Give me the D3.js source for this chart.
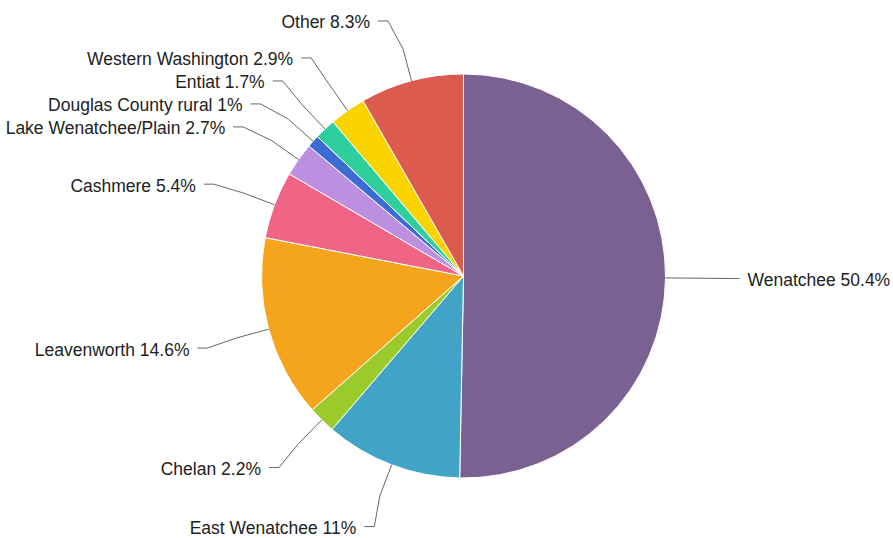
<!DOCTYPE html>
<html>
<head>
<meta charset="utf-8">
<script src="https://cdn.jsdelivr.net/npm/d3@7"></script>
<style>
  html, body { margin: 0; padding: 0; background: #fff; }
  svg { display: block; font-family: "Liberation Sans", Arial, Helvetica, sans-serif; }
</style>
</head>
<body>
<svg id="chart" width="893" height="538"></svg>
<script>
// data
const categories = ["Wenatchee", "East Wenatchee", "Chelan", "Leavenworth", "Cashmere",
	"Lake Wenatchee/Plain", "Douglas County rural", "Entiat", "Western Washington", "Other"];
const shares = [50.4, 11, 2.2, 14.6, 5.4, 2.7, 1, 1.7, 2.9, 8.3];
const sliceColors = ["#7b6192", "#41a3c5", "#9acb2b", "#f5a51b", "#f06586",
	"#bd8fe0", "#3a6cd3", "#2ecf9c", "#fbd300", "#dc5b4f"];

const width = 893, height = 538;
const cx = 463.5, cy = 276, radius = 202;
const labelRadius = 266;   // where labels sit
const breakRadius = 235;   // where connector bends near the slice
const minGap = 23;         // min vertical spacing between labels

const svg = d3.select("#chart");

const pie = d3.pie().sort(null).value(d => d.value);
const arc = d3.arc().innerRadius(0).outerRadius(radius);

const rows = categories.map((c, i) => ({ name: c, value: shares[i], color: sliceColors[i] }));
const arcs = pie(rows);

const g = svg.append("g").attr("transform", `translate(${cx},${cy})`);

g.selectAll("path.slice")
	.data(arcs)
	.enter().append("path")
	.attr("class", "slice")
	.attr("d", arc)
	.attr("fill", d => d.data.color)
	.attr("stroke", "#fff")
	.attr("stroke-width", 1);

// label layout: natural position on the label circle, then spread each side apart
const labels = arcs.map(d => {
	const a = (d.startAngle + d.endAngle) / 2;
	const right = Math.sin(a) >= 0;
	return {
		arc: d,
		angle: a,
		right: right,
		y: -labelRadius * Math.cos(a) + (right ? 0 : 2)
	};
});

function spread(list) {
	list.sort((a, b) => a.y - b.y);
	for (let iter = 0; iter < 200; iter++) {
		let moved = false;
		for (let i = 1; i < list.length; i++) {
			const overlap = minGap - (list[i].y - list[i - 1].y);
			if (overlap > 0.01) {
				list[i - 1].y -= overlap / 2;
				list[i].y += overlap / 2;
				moved = true;
			}
		}
		if (!moved) break;
	}
}
spread(labels.filter(l => l.right));
spread(labels.filter(l => !l.right));

labels.forEach(l => {
	const dy = Math.max(-labelRadius, Math.min(labelRadius, l.y));
	const dx = Math.sqrt(labelRadius * labelRadius - dy * dy);
	l.x = l.right ? dx : -dx;
	l.side = l.right ? 1 : -1;
});

const line = d3.line();

g.selectAll("path.connector")
	.data(labels)
	.enter().append("path")
	.attr("class", "connector")
	.attr("fill", "none")
	.attr("stroke", "#666")
	.attr("stroke-width", 1)
	.attr("d", l => {
		const touch = [radius * Math.sin(l.angle), -radius * Math.cos(l.angle)];
		const brk = [breakRadius * Math.sin(l.angle), -breakRadius * Math.cos(l.angle)];
		return line([[l.x + 10 * l.side, l.y], [l.x, l.y], brk, touch]);
	});

g.selectAll("text.label")
	.data(labels)
	.enter().append("text")
	.attr("class", "label")
	.attr("x", l => l.x + 18 * l.side)
	.attr("y", l => l.y + 7.5)
	.attr("text-anchor", l => l.right ? "start" : "end")
	.attr("font-size", "17.5px")
	.attr("fill", "#222")
	.text(l => `${l.arc.data.name} ${l.arc.data.value}%`);
</script>
</body>
</html>
